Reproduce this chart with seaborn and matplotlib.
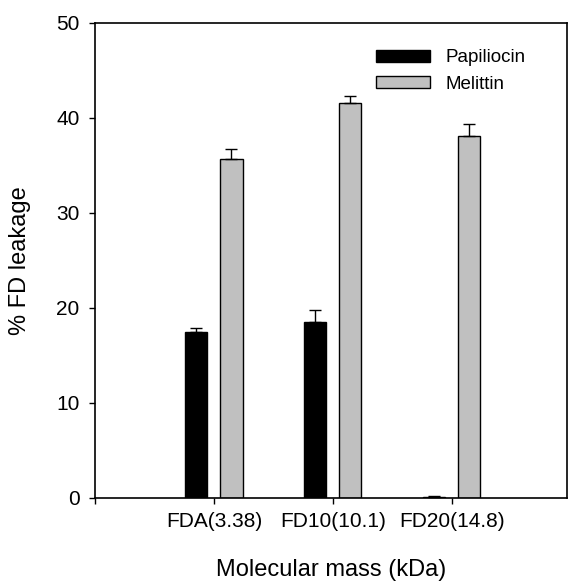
import numpy as np
import pandas as pd
import seaborn as sns
import matplotlib
matplotlib.use("Agg")
from matplotlib import pyplot as plt

# values
masses = ["FDA(3.38)", "FD10(10.1)", "FD20(14.8)"]
papiliocin = [17.5, 18.5, 0.05]
papiliocin_err = [0.35, 1.25, 0.12]
melittin = [35.7, 41.5, 38.1]
melittin_err = [1.05, 0.75, 1.2]
peptides = ["Papiliocin", "Melittin"]
colors = ["#000000", "#c0c0c0"]

df = pd.DataFrame({
    "mass": masses * 2,
    "leak": papiliocin + melittin,
    "err": papiliocin_err + melittin_err,
    "peptide": [peptides[0]] * 3 + [peptides[1]] * 3,
})

sns.set_theme(style="ticks")
plt.rcParams["font.family"] = ["Liberation Sans", "DejaVu Sans"]
plt.rcParams["text.color"] = "black"
plt.rcParams["axes.labelcolor"] = "black"

fig = plt.figure(figsize=(5.68, 5.81), dpi=100)
ax = fig.add_axes([0.1673, 0.1429, 0.8310, 0.8181])

sns.barplot(data=df, x="mass", y="leak", hue="peptide", order=masses,
            hue_order=peptides, palette=colors, width=0.59, gap=0.37,
            edgecolor="black", linewidth=1.0, errorbar=None, ax=ax)

# upward-only error bars, SigmaPlot style
for cont, pep in zip(ax.containers, peptides):
    sub = df[df["peptide"] == pep].set_index("mass").loc[masses]
    xs = [p.get_x() + p.get_width() / 2 for p in cont.patches]
    hs = [p.get_height() for p in cont.patches]
    ax.errorbar(xs, hs, yerr=[np.zeros(len(xs)), sub["err"].values],
                fmt="none", ecolor="black", elinewidth=1.0, capsize=4.5,
                capthick=1.0, zorder=1)

ax.set_xlim(-1, 2.97)
ax.set_ylim(0, 50)
ax.set_xticks([-1, 0, 1, 2])
ax.set_xticklabels([""] + masses)
ax.set_yticks([0, 10, 20, 30, 40, 50])

for s in ax.spines.values():
    s.set_linewidth(1.2)
    s.set_color("black")
ax.tick_params(axis="both", direction="out", length=4, width=1.0,
               labelsize=15, colors="black")
ax.tick_params(axis="y", pad=7)
ax.tick_params(axis="x", pad=6)

ax.set_xlabel("Molecular mass (kDa)", fontsize=17, labelpad=20)
ax.set_ylabel("% FD leakage", fontsize=17, labelpad=18)

leg = ax.legend(loc="upper left", bbox_to_anchor=(0.662, 0.915),
                bbox_transform=fig.transFigure, frameon=False, fontsize=13.5,
                handlelength=2.9, handleheight=0.65, handletextpad=0.8,
                labelspacing=0.5, borderaxespad=0, borderpad=0, title=None)

fig.savefig("out.png", dpi=100)
